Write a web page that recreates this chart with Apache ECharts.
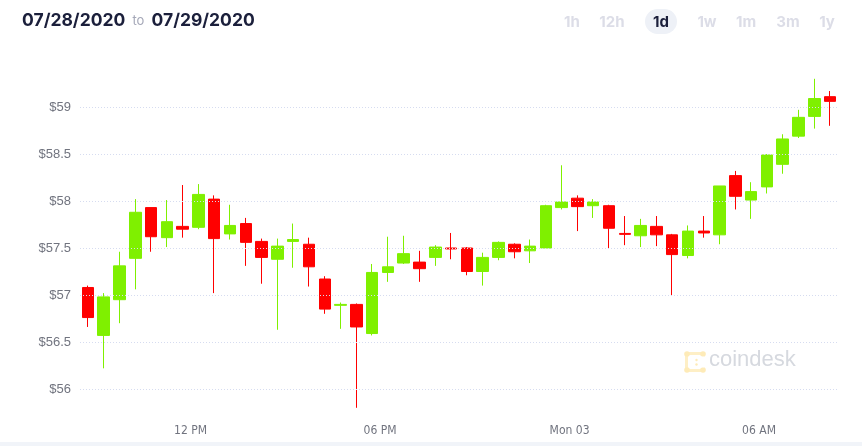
<!DOCTYPE html>
<html lang="en">
<head>
    <meta charset="utf-8">
    <title>BTC 1d candles</title>
    <script type="text/javascript" src="https://cdn.jsdelivr.net/npm/echarts@6/dist/echarts.min.js"></script>
    <style>
        html, body {margin: 0; padding: 0; background: #fff;}
        #chart {width: 862px; height: 446px;}
    </style>
</head>
<body>
<div id="chart"></div>
<script type="text/javascript">
    // 30 min buckets (start time), day 1 then day 2
    var slotTimes = [
        '08:30', '09:00', '09:30', '10:00', '10:30', '11:00', '11:30', '12:00',
        '12:30', '13:00', '13:30', '14:00', '14:30', '15:00', '15:30', '16:00',
        '16:30', '17:00', '17:30', '18:00', '18:30', '19:00', '19:30', '20:00',
        '20:30', '21:00', '21:30', '22:00', '22:30', '23:00', '23:30',
        '+00:00', '+00:30', '+01:00', '+01:30', '+02:00', '+02:30', '+03:00', '+03:30',
        '+04:00', '+04:30', '+05:00', '+05:30', '+06:00', '+06:30', '+07:00', '+07:30', '+08:00'
    ];
    var opens = [
        57.08, 56.57, 56.95, 57.39, 57.93, 57.61, 57.73, 57.72, 58.02, 57.65, 57.76, 57.57,
        57.38, 57.57, 57.54, 57.17, 56.89, 56.90, 56.59, 57.24, 57.34, 57.35, 57.40, 57.50,
        57.50, 57.25, 57.40, 57.54, 57.47, 57.50, 57.93, 58.03, 57.95, 57.95, 57.655, 57.63,
        57.73, 57.64, 57.42, 57.68, 57.64, 58.27, 58.01, 58.15, 58.39, 58.69, 58.90, 59.11
    ];
    var closes = [
        56.76, 56.98, 57.31, 57.88, 57.62, 57.78, 57.70, 58.07, 57.60, 57.74, 57.56, 57.40,
        57.52, 57.59, 57.30, 56.85, 56.90, 56.66, 57.24, 57.30, 57.44, 57.28, 57.51, 57.49,
        57.25, 57.40, 57.56, 57.46, 57.52, 57.95, 57.99, 57.94, 57.99, 57.71, 57.645, 57.74,
        57.64, 57.43, 57.68, 57.66, 58.16, 58.05, 58.10, 58.49, 58.66, 58.89, 59.09, 59.06
    ];
    var lows = [
        56.66, 56.22, 56.70, 57.06, 57.46, 57.51, 57.61, 57.70, 57.02, 57.59, 57.31, 57.12,
        56.63, 57.29, 57.09, 56.80, 56.64, 55.80, 56.57, 57.14, 57.33, 57.14, 57.31, 57.38,
        57.21, 57.10, 57.37, 57.39, 57.34, 57.50, 57.91, 57.68, 57.82, 57.49, 57.53, 57.51,
        57.52, 56.99, 57.39, 57.61, 57.54, 57.91, 57.81, 58.08, 58.29, 58.67, 58.77, 58.80
    ];
    var highs = [
        57.10, 57.02, 57.46, 58.02, 57.93, 58.01, 58.17, 58.18, 58.06, 57.96, 57.82, 57.60,
        57.60, 57.76, 57.61, 57.20, 56.92, 56.91, 57.33, 57.62, 57.63, 57.47, 57.53, 57.66,
        57.51, 57.45, 57.57, 57.55, 57.59, 57.96, 58.38, 58.06, 58.02, 57.96, 57.84, 57.81,
        57.84, 57.65, 57.74, 57.84, 58.16, 58.32, 58.20, 58.50, 58.71, 58.97, 59.30, 59.17
    ];
    var xTickValues = [12, 18, 24, 30];
    var xTickLabels = ['12 PM', '06 PM', 'Mon 03', '06 AM'];
    var rangeButtons = ['1h', '12h', '1d', '1w', '1m', '3m', '1y'];
    var activeRange = '1d';

    var upColor = '#7ff000';
    var downColor = '#ff0000';

    // bucket start -> hours on the axis, candle sits in the middle of its bucket
    function slotToHour(s) {
        var nextDay = s.charAt(0) === '+';
        var p = s.replace('+', '').split(':');
        return (nextDay ? 24 : 0) + parseInt(p[0], 10) + parseInt(p[1], 10) / 60 + 0.25;
    }

    var candles = [];
    for (var i = 0; i < slotTimes.length; i++) {
        candles.push([slotToHour(slotTimes[i]), opens[i], closes[i], lows[i], highs[i]]);
    }

    var chart = echarts.init(document.getElementById('chart'), null, {renderer: 'canvas'});

    var btnX = [572, 612, 661, 707, 746, 788, 827];
    var graphics = [
        {type: 'rect', left: 0, top: 442, shape: {width: 862, height: 4}, style: {fill: '#f1f4f9'}, silent: true},
        {type: 'rect', left: 645, top: 9, shape: {width: 32, height: 25, r: 12.5}, style: {fill: '#eef1f7'}}
    ];
    rangeButtons.forEach(function (b, k) {
        graphics.push({
            type: 'text', x: btnX[k], y: 22, z: 10,
            style: {
                text: b, fill: b === activeRange ? '#1b1f3b' : '#dcdde7',
                font: 'bold 15px Inter, "Liberation Sans", sans-serif',
                textAlign: 'center', textVerticalAlign: 'middle'
            }
        });
    });
    // coindesk watermark
    var logo = {type: 'group', left: 684, top: 351, children: [
        {type: 'rect', shape: {x: 2, y: 2, width: 17, height: 17}, style: {fill: 'none', stroke: '#feefc6', lineWidth: 3}},
        {type: 'circle', shape: {cx: 2.5, cy: 2.5, r: 2.8}, style: {fill: '#feebb8'}},
        {type: 'circle', shape: {cx: 18.5, cy: 2.5, r: 2.8}, style: {fill: '#feebb8'}},
        {type: 'circle', shape: {cx: 2.5, cy: 18.5, r: 2.8}, style: {fill: '#feebb8'}},
        {type: 'circle', shape: {cx: 18.5, cy: 18.5, r: 2.8}, style: {fill: '#feebb8'}},
        {type: 'rect', shape: {x: 10, y: 5, width: 12, height: 11}, style: {fill: '#fff'}},
        {type: 'circle', shape: {cx: 12, cy: 8.5, r: 1.2}, style: {fill: '#feebb8'}},
        {type: 'circle', shape: {cx: 12, cy: 13, r: 1.2}, style: {fill: '#feebb8'}}
    ]};
    graphics.push(logo);
    graphics.push({
        type: 'text', left: 709, top: 349,
        style: {text: 'coindesk', fill: '#d6d9df', font: '22px "Liberation Sans", Arial, sans-serif'}
    });

    var option = {
        animation: false,
        backgroundColor: '#fff',
        title: {
            left: 17, top: 7,
            text: '07/28/2020 {to|to} 07/29/2020',
            textStyle: {
                fontFamily: 'Inter, "Liberation Sans", sans-serif',
                fontWeight: 'bold', fontSize: 17.5, color: '#1b1f3b',
                rich: {
                    to: {fontSize: 13, fontWeight: 'normal', color: '#a5a8b8', padding: [0, 3, 0, 3]}
                }
            }
        },
        graphic: graphics,
        grid: {left: 80, right: 24, top: 69.4, bottom: 28.8},
        xAxis: {
            type: 'value',
            min: 8.5,
            max: 32.5,
            axisLine: {show: false},
            axisTick: {show: false},
            splitLine: {show: false},
            axisLabel: {
                customValues: xTickValues,
                margin: 8,
                color: '#71747f',
                fontSize: 12,
                fontFamily: '"Liberation Sans Narrow", "DejaVu Sans Condensed", "Liberation Sans", Arial, sans-serif',
                formatter: function (v) {
                    var k = xTickValues.indexOf(v);
                    return k >= 0 ? xTickLabels[k] : '';
                }
            }
        },
        yAxis: {
            type: 'value',
            min: 55.7,
            max: 59.4,
            splitNumber: 7,
            minInterval: 0.5,
            maxInterval: 0.5,
            z: 3,
            axisLine: {show: false},
            axisTick: {show: false},
            axisLabel: {
                showMinLabel: false,
                showMaxLabel: false,
                margin: 9,
                color: '#71747f',
                fontSize: 13,
                fontFamily: '"Liberation Sans", Arial, sans-serif',
                formatter: function (v) { return '$' + v; }
            },
            splitLine: {
                showMinLine: false,
                showMaxLine: false,
                lineStyle: {color: '#d6dcf0', type: [1, 2], width: 1}
            }
        },
        series: [{
            type: 'candlestick',
            barWidth: 12,
            data: candles,
            itemStyle: {
                color: upColor,
                color0: downColor,
                borderColor: upColor,
                borderColor0: downColor,
                borderWidth: 1
            }
        }]
    };

    chart.setOption(option);
</script>
</body>
</html>
